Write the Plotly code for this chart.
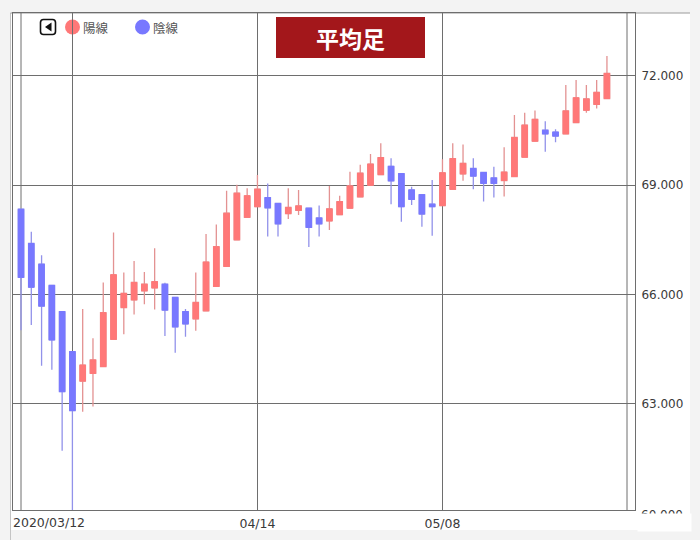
import plotly.graph_objects as go

# ---------------- data (Heikin-Ashi candles) ----------------
open_ = [68.34, 67.40, 66.83, 66.25, 65.53, 64.43, 63.62, 63.83, 64.02, 64.77,
         65.64, 65.85, 66.10, 66.18, 66.28, 65.92, 65.53, 65.33, 65.55, 66.22,
         66.77, 67.50, 68.12, 68.41, 68.66, 68.50, 68.22, 68.31, 68.37, 68.10,
         68.02, 68.19, 68.37, 68.68, 69.00, 69.29, 69.52, 69.32, 68.87, 68.74,
         68.48, 68.44, 68.89, 69.31, 69.46, 69.35, 69.20, 69.13, 69.24, 69.77,
         70.21, 70.51, 70.46, 70.41, 70.72, 71.06, 71.22, 71.38]
high = [68.34, 67.72, 67.08, 66.25, 65.53, 64.43, 65.60, 64.80, 66.33, 67.70,
        66.60, 66.92, 66.62, 67.27, 66.32, 65.92, 65.60, 66.60, 67.66, 67.92,
        68.85, 69.01, 68.92, 69.28, 69.05, 68.50, 68.92, 68.87, 68.37, 68.44,
        68.98, 68.71, 69.37, 69.56, 69.86, 70.15, 69.74, 69.32, 68.96, 68.74,
        69.14, 69.71, 70.15, 70.12, 69.74, 69.35, 69.51, 70.04, 70.93, 70.99,
        71.05, 70.76, 70.54, 71.75, 71.89, 71.75, 71.89, 72.55]
low = [65.02, 65.16, 64.04, 63.93, 61.71, 59.90, 62.78, 62.92, 64.02, 64.77,
       64.91, 65.45, 65.73, 65.59, 64.86, 64.40, 64.84, 65.00, 65.55, 66.22,
       66.77, 67.50, 68.12, 68.41, 67.59, 67.59, 68.07, 68.18, 67.30, 67.59,
       67.77, 68.19, 68.37, 68.68, 69.00, 69.29, 68.48, 68.00, 68.46, 67.86,
       67.61, 68.44, 68.89, 69.12, 68.89, 68.55, 68.66, 68.69, 69.24, 69.77,
       70.21, 69.92, 70.18, 70.41, 70.72, 70.99, 71.11, 71.38]
close = [66.47, 66.20, 65.68, 64.75, 63.33, 62.81, 64.06, 64.20, 65.50, 66.54,
         66.03, 66.33, 66.28, 66.35, 65.57, 65.11, 65.19, 65.78, 66.89, 67.31,
         68.23, 68.78, 68.71, 68.89, 68.38, 67.94, 68.39, 68.43, 67.84, 67.94,
         68.35, 68.55, 68.98, 69.33, 69.58, 69.76, 69.12, 68.41, 68.61, 68.21,
         68.41, 69.34, 69.73, 69.60, 69.25, 69.05, 69.05, 69.36, 70.31, 70.65,
         70.81, 70.41, 70.35, 71.04, 71.40, 71.37, 71.55, 72.07]

tick_index = [5, 23, 41]
tick_labels = ["2020/03/12", "04/14", "05/08"]
y_ticks = [60, 63, 66, 69, 72]
title_text = "平均足"
legend_labels = ["陽線", "陰線"]

# ---------------- styling ----------------
UP, DOWN = "#ff7878", "#7878ff"
UP_WICK, DOWN_WICK = "#e39292", "#9292ea"
GRID = "#6e6e6e"
TXT = "#3a3a3a"
BG = "#f3f3f3"
FONT = "DejaVu Sans"
CJK = "Noto Sans CJK JP"

W, H = 700, 540
ML, MR, MT, MB = 13, 65, 13, 30
PW, PH = W - ML - MR, H - MT - MB


def fx(px):
    return (px - ML) / PW


def fy(py):
    return (H - MB - py) / PH


idx = list(range(len(open_)))
body_hi = [max(o, c) for o, c in zip(open_, close)]
body_lo = [min(o, c) for o, c in zip(open_, close)]

fig = go.Figure()
# wicks (lighter)
fig.add_trace(go.Candlestick(
    x=idx, open=open_, high=high, low=low, close=close,
    increasing=dict(line=dict(color=UP_WICK, width=1.3), fillcolor=UP),
    decreasing=dict(line=dict(color=DOWN_WICK, width=1.3), fillcolor=DOWN),
    showlegend=False, hoverinfo="skip"))
# bodies (solid)
fig.add_trace(go.Candlestick(
    x=idx, open=open_, high=body_hi, low=body_lo, close=close,
    increasing=dict(line=dict(color=UP, width=1), fillcolor=UP),
    decreasing=dict(line=dict(color=DOWN, width=1), fillcolor=DOWN),
    showlegend=False, hoverinfo="skip"))

shapes = []
# white panel
shapes.append(dict(type="rect", xref="paper", yref="paper", layer="below",
                   x0=fx(11), x1=fx(690), y0=fy(530), y1=fy(13),
                   fillcolor="white", line=dict(width=0)))
# panel edge lines
shapes.append(dict(type="line", xref="paper", yref="paper", layer="below",
                   x0=fx(10.5), x1=fx(10.5), y0=fy(540), y1=fy(13),
                   line=dict(color="#c4c4c4", width=1)))
shapes.append(dict(type="line", xref="paper", yref="paper", layer="below",
                   x0=fx(10.5), x1=fx(690), y0=fy(13), y1=fy(13),
                   line=dict(color="#9a9a9a", width=1)))
# inner frame lines
for px in (21, 627):
    shapes.append(dict(type="line", xref="paper", yref="paper", layer="below",
                       x0=fx(px), x1=fx(px), y0=0, y1=1,
                       line=dict(color=GRID, width=1)))
# legend circles
for cx, col in ((72.5, UP), (142.5, DOWN)):
    shapes.append(dict(type="circle", xref="paper", yref="paper", layer="below",
                       x0=fx(cx - 7.5), x1=fx(cx + 7.5), y0=fy(34.5), y1=fy(19.5),
                       fillcolor=col, line=dict(width=0)))
# back-arrow icon (rounded square + triangle)
x0, x1, y0, y1, r = 40.5, 55.5, 19.5, 34.5, 3
p = (f"M {fx(x0 + r)},{fy(y0)} L {fx(x1 - r)},{fy(y0)} Q {fx(x1)},{fy(y0)} {fx(x1)},{fy(y0 + r)} "
     f"L {fx(x1)},{fy(y1 - r)} Q {fx(x1)},{fy(y1)} {fx(x1 - r)},{fy(y1)} "
     f"L {fx(x0 + r)},{fy(y1)} Q {fx(x0)},{fy(y1)} {fx(x0)},{fy(y1 - r)} "
     f"L {fx(x0)},{fy(y0 + r)} Q {fx(x0)},{fy(y0)} {fx(x0 + r)},{fy(y0)} Z")
shapes.append(dict(type="path", xref="paper", yref="paper", layer="above", path=p,
                   fillcolor="white", line=dict(color="#111111", width=1.6)))
tri = f"M {fx(45)},{fy(27)} L {fx(51.5)},{fy(22.5)} L {fx(51.5)},{fy(31.5)} Z"
shapes.append(dict(type="path", xref="paper", yref="paper", layer="above", path=tri,
                   fillcolor="#111111", line=dict(width=0)))
# title box
shapes.append(dict(type="rect", xref="paper", yref="paper", layer="above",
                   x0=fx(276), x1=fx(425), y0=fy(58), y1=fy(17),
                   fillcolor="#a3171b", line=dict(width=0)))

annotations = []
annotations.append(dict(text=f"<b>{title_text}</b>", xref="paper", yref="paper",
                        x=fx(350.5), y=fy(37.5), xanchor="center", yanchor="middle",
                        showarrow=False, font=dict(family=CJK, size=23, color="white")))
for tx, lab in ((81, legend_labels[0]), (151, legend_labels[1])):
    annotations.append(dict(text=lab, xref="paper", yref="paper", x=fx(tx), y=fy(27.5),
                            xanchor="left", yanchor="middle", showarrow=False,
                            font=dict(family=CJK, size=12.5, color="#555555")))
# first date label (left aligned at the panel edge)
annotations.append(dict(text=tick_labels[0], xref="paper", yref="paper", x=fx(10.5),
                        y=fy(522), xanchor="left", yanchor="middle", showarrow=False,
                        font=dict(family=FONT, size=12.5, color=TXT)))
# bottom y label (clipped in the original)
annotations.append(dict(text=f"{y_ticks[0]:.3f}", xref="paper", yref="paper", x=fx(639),
                        y=fy(514.5), xanchor="left", yanchor="middle", showarrow=False,
                        font=dict(family=FONT, size=12, color=TXT)))
annotations.append(dict(text=" ", xref="paper", yref="paper", x=fx(637), y=fy(512.5),
                        xanchor="left", yanchor="top", showarrow=False, width=53, height=17,
                        borderpad=0, bgcolor="white", font=dict(size=1)))

fig.update_layout(
    width=W, height=H,
    margin=dict(l=ML, r=MR, t=MT, b=MB, pad=0, autoexpand=False),
    paper_bgcolor=BG, plot_bgcolor="rgba(0,0,0,0)",
    hovermode=False, boxgap=0.24, showlegend=False,
    shapes=shapes, annotations=annotations,
    xaxis=dict(range=[-0.78, 59.73], tickmode="array", tickvals=tick_index,
               ticktext=[""] + tick_labels[1:], showgrid=True, gridcolor=GRID, gridwidth=1,
               showline=True, mirror=True, linecolor=GRID, linewidth=1, zeroline=False,
               ticks="", rangeslider=dict(visible=False), fixedrange=True,
               automargin=False, ticklabelstandoff=2,
               tickfont=dict(family=FONT, size=12.5, color=TXT)),
    yaxis=dict(side="right", range=[60.08, 73.73], tickmode="array", tickvals=y_ticks,
               tickformat=".3f", showgrid=True, gridcolor=GRID, gridwidth=1,
               showline=True, mirror=True, linecolor=GRID, linewidth=1, zeroline=False,
               ticks="", automargin=False, ticklabelstandoff=3, fixedrange=True,
               tickfont=dict(family=FONT, size=12, color=TXT)),
)

fig.write_html(
    "out.html",
    config={"displayModeBar": False},
    post_script=(
        "document.body.style.margin='0';document.body.style.padding='0';"
        f"document.body.style.background='{BG}';"
        "document.documentElement.style.overflow='hidden';"
    ),
)
